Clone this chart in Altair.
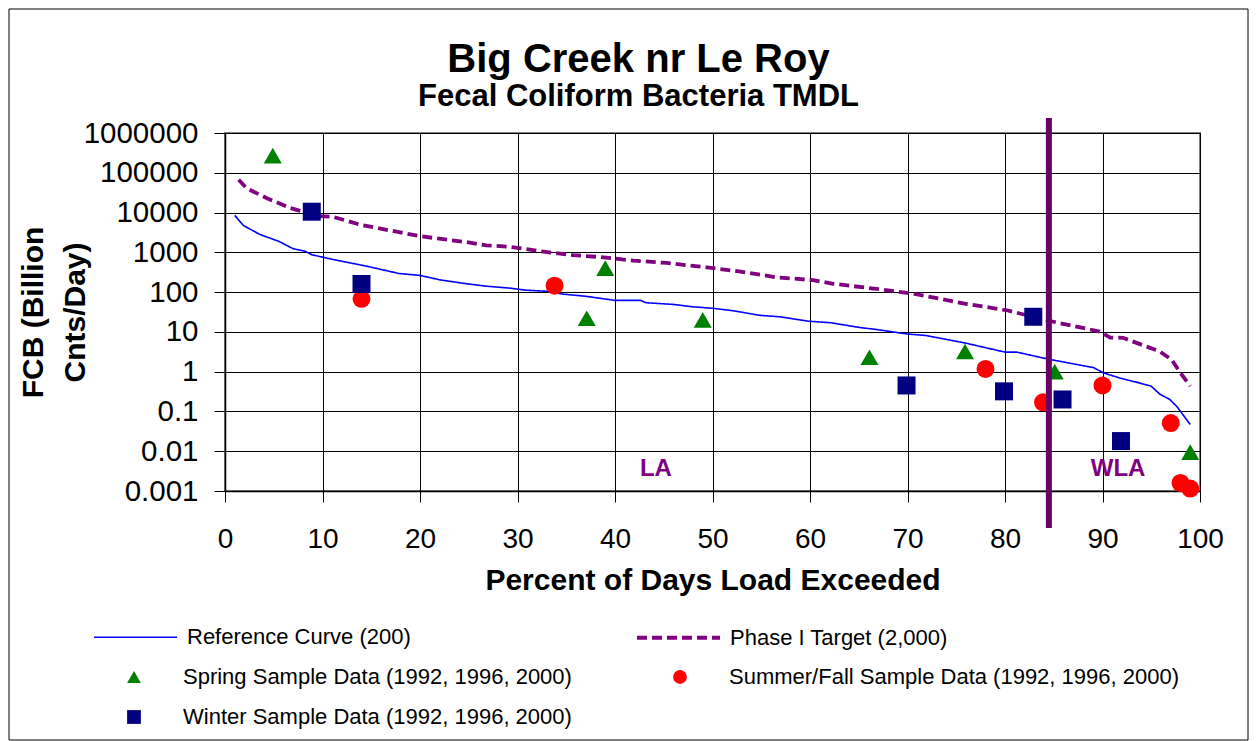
import altair as alt
import pandas as pd

# ---------------- data ----------------
REF_X = [1.0, 1.9, 3.6, 5.5, 7.0, 8.2, 8.9, 11.1, 14.5, 17.8, 20.0, 22.0, 24.8, 26.8,
         29.2, 30.8, 33.0, 34.7, 37.1, 40.0, 42.6, 43.2, 46.0, 47.9, 50.1, 52.1, 54.9,
         56.9, 59.8, 62.1, 65.1, 66.8, 69.9, 71.9, 76.0, 80.0, 81.2, 84.3, 89.1, 90.1,
         91.8, 93.8, 95.0, 95.9, 96.9, 97.6, 99.0]
REF_Y = [8500, 4700, 2800, 1900, 1230, 1070, 870, 660, 450, 295, 263, 204, 162, 141,
         126, 112, 105, 89, 78, 62, 62, 54, 49, 43, 39, 34, 26,
         24, 18.6, 17, 12.9, 11.5, 8.9, 8.1, 5.2, 3.1, 3.1, 2.1, 1.26, 0.93,
         0.69, 0.52, 0.43, 0.27, 0.20, 0.135, 0.047]

TGT_X = [1.4, 2.2, 4.3, 6.7, 9.7, 11.1, 13.8, 17.6, 19.8, 21.4, 24.8, 26.8, 29.2, 32.3,
         35.7, 38.5, 41.9, 45.3, 49.4, 53.2, 56.6, 60.3, 62.4, 67.5, 70.9, 76.1, 80.2,
         84.3, 89.7, 90.8, 92.1, 95.9, 97.1, 97.9, 99.0]
TGT_Y = [67000, 41000, 23000, 13000, 8100, 7800, 5000, 3300, 2600, 2300, 1800, 1500, 1380, 1070,
         850, 760, 620, 540, 420, 320, 235, 200, 162, 115, 89, 50, 35,
         19.5, 10.2, 7.2, 7.1, 3.2, 2.0, 1.0, 0.43]

SPRING_X = [4.9, 37.1, 39.0, 49.0, 66.1, 75.9, 85.1, 99.0]
SPRING_Y = [270000, 22, 400, 20, 2.3, 3.2, 1.0, 0.0095]

SUMMER_X = [14.0, 33.8, 78.0, 83.9, 90.0, 97.0, 98.0, 99.0]
SUMMER_Y = [68, 145, 1.17, 0.17, 0.45, 0.051, 0.0016, 0.00115]

WINTER_X = [8.9, 14.0, 69.9, 79.9, 82.9, 85.9, 91.9]
WINTER_Y = [10500, 160, 0.45, 0.32, 24, 0.2, 0.018]

LINE_NAMES = ["Reference Curve (200)", "Phase I Target (2,000)"]
POINT_NAMES = ["Spring Sample Data (1992, 1996, 2000)",
               "Summer/Fall Sample Data (1992, 1996, 2000)",
               "Winter Sample Data (1992, 1996, 2000)"]

BOUNDARY_X = [84.5]
ZONE_LABELS = ["LA", "WLA"]
ZONE_X = [44.2, 91.6]
ZONE_Y = [0.0035, 0.0035]

Y_TICKS = [0.001, 0.01, 0.1, 1, 10, 100, 1000, 10000, 100000, 1000000]
X_TICKS = list(range(0, 101, 10))

FONT = "Liberation Sans"
W, H = 975, 358

lines_df = pd.concat([
    pd.DataFrame({"pct": REF_X, "load": REF_Y, "series": LINE_NAMES[0]}),
    pd.DataFrame({"pct": TGT_X, "load": TGT_Y, "series": LINE_NAMES[1]}),
])
points_df = pd.concat([
    pd.DataFrame({"pct": SPRING_X, "load": SPRING_Y, "season": POINT_NAMES[0]}),
    pd.DataFrame({"pct": SUMMER_X, "load": SUMMER_Y, "season": POINT_NAMES[1]}),
    pd.DataFrame({"pct": WINTER_X, "load": WINTER_Y, "season": POINT_NAMES[2]}),
])
zone_df = pd.DataFrame({"label": ZONE_LABELS, "pct": ZONE_X, "load": ZONE_Y})
bound_df = pd.DataFrame({"pct": BOUNDARY_X})

x_enc = alt.X("pct:Q", scale=alt.Scale(domain=[0, 100], nice=False),
              axis=alt.Axis(values=X_TICKS, title="Percent of Days Load Exceeded"))
y_enc = alt.Y("load:Q", scale=alt.Scale(type="log", domain=[0.001, 1000000], nice=False),
              axis=alt.Axis(values=Y_TICKS, format="~f", title=["FCB (Billion", "Cnts/Day)"]))

line_legend = alt.Legend(title=None, orient="none", legendX=-133, legendY=461,
                         direction="horizontal", columns=2, columnPadding=218,
                         symbolType="stroke", symbolSize=6889, labelOffset=8,
                         labelFontSize=22, labelFont=FONT, labelLimit=600,
                         labelColor="black", padding=0)

lines = alt.Chart(lines_df).mark_line(clip=True).encode(
    x=x_enc, y=y_enc,
    stroke=alt.Stroke("series:N", scale=alt.Scale(domain=LINE_NAMES, range=["#0000FF", "#800080"]),
                      legend=line_legend),
    strokeDash=alt.StrokeDash("series:N", scale=alt.Scale(domain=LINE_NAMES, range=[[1, 0], [10, 5]]),
                              legend=line_legend),
    strokeWidth=alt.StrokeWidth("series:N", scale=alt.Scale(domain=LINE_NAMES, range=[1.6, 3.8]),
                                legend=line_legend),
)

point_legend = alt.Legend(title=None, orient="none", legendX=-102, legendY=533,
                          direction="horizontal", columns=2, columnPadding=97, rowPadding=18,
                          symbolSize=190, labelOffset=38, symbolStrokeWidth=0,
                          labelFontSize=22, labelFont=FONT, labelLimit=600,
                          labelColor="black", padding=0)

points = alt.Chart(points_df).mark_point(filled=True, size=324, opacity=1, strokeWidth=0).encode(
    x=x_enc, y=y_enc,
    fill=alt.Fill("season:N", scale=alt.Scale(domain=POINT_NAMES, range=["#008000", "#FF0000", "#000080"]),
                  legend=point_legend),
    shape=alt.Shape("season:N", scale=alt.Scale(domain=POINT_NAMES, range=["triangle-up", "circle", "square"]),
                    legend=point_legend),
)

boundary = alt.Chart(bound_df).mark_rule(color="#660066", strokeWidth=6).encode(
    x="pct:Q", y=alt.value(-15), y2=alt.value(H + 37)
)

zones = alt.Chart(zone_df).mark_text(font=FONT, fontSize=24, fontWeight="bold",
                                     color="#800080").encode(
    x="pct:Q", y="load:Q", text="label:N"
)

frame = alt.Chart(pd.DataFrame({"k": [0]})).mark_rect(fill=None, stroke="black", strokeWidth=1).encode(
    x=alt.value(-216), x2=alt.value(W + 48), y=alt.value(-124), y2=alt.value(H + 249)
)

chart = alt.layer(frame, lines, points, boundary, zones).properties(
    width=W, height=H,
    background="white",
    autosize=alt.AutoSizeParams(type="none"),
    padding={"left": 217, "top": 125, "right": 49, "bottom": 250},
    title=alt.TitleParams(text="Big Creek nr Le Roy", subtitle="Fecal Coliform Bacteria TMDL",
                          font=FONT, fontSize=40, fontWeight="bold", color="black",
                          subtitleFont=FONT, subtitleFontSize=31, subtitleFontWeight="bold",
                          subtitleColor="black", subtitlePadding=2,
                          anchor="middle", frame="group", dx=-74, offset=-103),
).configure_view(
    stroke="#808080", strokeWidth=2
).configure_axis(
    labelFont=FONT, labelFontSize=28, labelColor="black",
    titleFont=FONT, titleFontSize=30, titleFontWeight="bold", titleColor="black",
    grid=True, gridColor="black", gridWidth=1, gridOpacity=1,
    domainColor="black", domainWidth=1.5, tickColor="black", tickSize=11, tickWidth=1,
).configure_axisX(
    labelPadding=23, titlePadding=12, labelFlush=False, labelOverlap=False
).configure_axisY(
    labelFontSize=29.5, labelPadding=16, titleX=-177, titleLineHeight=42, labelOverlap=False
)

chart.save("out.html", embed_options={"renderer": "svg", "actions": False})
